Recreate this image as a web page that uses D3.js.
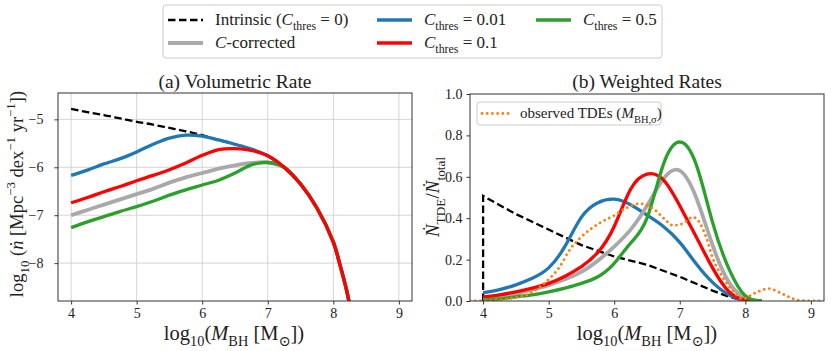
<!DOCTYPE html>
<html>
<head>
<meta charset="utf-8">
<script src="https://cdn.jsdelivr.net/npm/d3@7"></script>
<style>
  body { margin: 0; background: #fff; }
  svg, svg text, svg tspan { font-family: "Liberation Serif", "DejaVu Serif", serif !important; }
  text { fill: #222; }
</style>
</head>
<body>
<svg id="chart" width="831" height="351"></svg>
<script>
// ---- data ----
// (a) volumetric rate, log10 n-dot
var massA = [4, 4.25, 4.5, 4.75, 5, 5.25, 5.5, 5.75, 6, 6.25, 6.5, 6.75, 7, 7.25, 7.5, 7.75, 8, 8.1, 8.2, 8.25];
var intrinsicA = [-4.78, -4.85, -4.91, -4.98, -5.05, -5.11, -5.18, -5.25, -5.33, -5.43, -5.52, -5.62, -5.76, -6.0, -6.35, -6.85, -7.56, -8.03, -8.55, -8.88];
var corrA  = [-7.0, -6.89, -6.78, -6.67, -6.56, -6.45, -6.32, -6.21, -6.12, -6.03, -5.96, -5.91, -5.9, -6.0, -6.35, -6.85, -7.56, -8.03, -8.55, -8.88];
var c001A  = [-6.17, -6.06, -5.93, -5.82, -5.68, -5.52, -5.39, -5.33, -5.35, -5.43, -5.52, -5.62, -5.76, -6.0, -6.35, -6.85, -7.56, -8.03, -8.55, -8.88];
var c01A   = [-6.74, -6.63, -6.51, -6.4, -6.28, -6.17, -6.05, -5.91, -5.75, -5.63, -5.61, -5.65, -5.76, -6.0, -6.35, -6.85, -7.56, -8.03, -8.55, -8.88];
var c05A   = [-7.26, -7.14, -7.03, -6.92, -6.82, -6.71, -6.58, -6.47, -6.37, -6.27, -6.12, -5.95, -5.9, -6.0, -6.35, -6.85, -7.56, -8.03, -8.55, -8.88];

// (b) weighted rates
var massB = [4, 4.25, 4.5, 4.75, 5, 5.25, 5.5, 5.75, 6, 6.25, 6.5, 6.75, 7, 7.25, 7.5, 7.75, 8, 8.25];
var corrB = [0.012, 0.02, 0.035, 0.055, 0.077, 0.105, 0.141, 0.195, 0.263, 0.345, 0.46, 0.59, 0.63, 0.5, 0.27, 0.09, 0.015, 0];
var c001B = [0.04, 0.055, 0.078, 0.11, 0.16, 0.265, 0.405, 0.475, 0.492, 0.465, 0.415, 0.36, 0.283, 0.18, 0.09, 0.03, 0.003, 0];
var c01B  = [0.02, 0.03, 0.044, 0.062, 0.085, 0.12, 0.166, 0.235, 0.36, 0.54, 0.613, 0.585, 0.46, 0.31, 0.16, 0.045, 0.005, 0];
var c05B  = [0.003, 0.01, 0.02, 0.03, 0.044, 0.062, 0.085, 0.117, 0.182, 0.28, 0.4, 0.66, 0.768, 0.66, 0.38, 0.155, 0.025, 0];
var intrMassB = [4, 4, 4.5, 5, 5.5, 6, 6.5, 7, 7.5, 7.75, 8];
var intrB     = [0, 0.507, 0.42, 0.345, 0.27, 0.215, 0.175, 0.117, 0.05, 0.02, 0];
var obsMass = [3.8, 4, 4.1, 4.41, 4.71, 4.96, 5.17, 5.32, 5.48, 5.63, 5.78, 5.98, 6.19, 6.39, 6.62, 6.77, 6.9, 7.05, 7.2, 7.3, 7.4, 7.5, 7.65, 7.8, 7.96, 8.13, 8.36, 8.51, 8.66, 8.82, 9.0, 9.2];
var obsB    = [0, 0.001, 0.003, 0.012, 0.036, 0.093, 0.166, 0.247, 0.304, 0.345, 0.377, 0.41, 0.45, 0.47, 0.44, 0.395, 0.365, 0.375, 0.405, 0.38, 0.31, 0.21, 0.117, 0.052, 0.01, 0.036, 0.06, 0.043, 0.02, 0.003, 0, 0];

var ticksX = [4, 5, 6, 7, 8, 9];
var ticksYA = [-5, -6, -7, -8];
var ticksYB = [0, 0.2, 0.4, 0.6, 0.8, 1.0];

var colBlue = "#1f77b4", colRed = "#ff0000", colGreen = "#2ca02c", colGray = "#a9a9a9", colOrange = "#ff7f0e";
var serif = "Liberation Serif, DejaVu Serif, serif";

var svg = d3.select("#chart").attr("font-family", serif);
svg.append("rect").attr("width", 831).attr("height", 351).attr("fill", "#fff");

// rich text: parts = [{t, i, s}] ; s = "sub" | "sup"
function rich(sel, parts, size) {
    var cur = 0;
    sel.attr("font-family", serif);
    parts.forEach(function(p) {
        var target = p.s == "sub" ? size * 0.3 : (p.s == "sup" ? -size * 0.42 : 0);
        var ts = sel.append("tspan")
            .attr("dy", target - cur)
            .attr("font-size", p.s ? size * 0.7 : size)
            .text(p.t);
        if (p.i) ts.attr("font-style", "italic");
        cur = target;
    });
    return sel;
}

var xLabelParts = [{t: "log"}, {t: "10", s: "sub"}, {t: "("}, {t: "M", i: 1}, {t: "BH", s: "sub"},
                   {t: " [M"}, {t: "\u2299", s: "sub"}, {t: "])"}];

var smooth = d3.curveCatmullRom.alpha(0.5);

//---------- panel (a) ----------
var xA = d3.scaleLinear().domain([3.8, 9.2]).range([58, 412]);
var yA = d3.scaleLinear().domain([-8.79, -4.45]).range([301, 93]);

var gA = svg.append("g");
gA.append("clipPath").attr("id", "clipA").append("rect")
    .attr("x", 58).attr("y", 93).attr("width", 354).attr("height", 208);

// grid
gA.selectAll(".gx").data(ticksX).enter().append("line")
    .attr("x1", function(d){ return xA(d); }).attr("x2", function(d){ return xA(d); })
    .attr("y1", 93).attr("y2", 301).attr("stroke", "#d0d0d0").attr("stroke-width", 0.9);
gA.selectAll(".gy").data(ticksYA).enter().append("line")
    .attr("y1", function(d){ return yA(d); }).attr("y2", function(d){ return yA(d); })
    .attr("x1", 58).attr("x2", 412).attr("stroke", "#d0d0d0").attr("stroke-width", 0.9);

var lineA = function(ys, xs) {
    return d3.line().curve(smooth)
        .x(function(d, i){ return xA(xs[i]); })
        .y(function(d){ return yA(d); })(ys);
};
var curvesA = [
    {v: intrinsicA, c: "#000", w: 2.3, dash: "7.5,3.5"},
    {v: corrA, c: colGray, w: 3.8},
    {v: c001A, c: colBlue, w: 3.3},
    {v: c05A, c: colGreen, w: 3.3},
    {v: c01A, c: colRed, w: 3.3}
];
var plotA = gA.append("g").attr("clip-path", "url(#clipA)");
curvesA.forEach(function(cv) {
    plotA.append("path").attr("d", lineA(cv.v, massA))
        .attr("fill", "none").attr("stroke", cv.c).attr("stroke-width", cv.w)
        .attr("stroke-dasharray", cv.dash || null);
});

gA.append("rect").attr("x", 58).attr("y", 93).attr("width", 354).attr("height", 208)
    .attr("fill", "none").attr("stroke", "#333").attr("stroke-width", 1);

var axA = gA.append("g").attr("transform", "translate(0,301)")
    .call(d3.axisBottom(xA).tickValues(ticksX).tickSize(3.5).tickPadding(4).tickFormat(d3.format("d")));
var ayA = gA.append("g").attr("transform", "translate(58,0)")
    .call(d3.axisLeft(yA).tickValues(ticksYA).tickSize(3.5).tickPadding(11)
        .tickFormat(function(d){ return "\u2212" + Math.abs(d); }));
[axA, ayA].forEach(function(a) {
    a.attr("font-family", serif);
    a.select(".domain").remove();
    a.selectAll("line").attr("stroke", "#333");
    a.selectAll("text").attr("font-size", 14).attr("fill", "#222");
});

gA.append("text").attr("x", 235).attr("y", 88).attr("text-anchor", "middle")
    .attr("font-family", serif).attr("font-size", 19.5).text("(a) Volumetric Rate");
rich(gA.append("text").attr("x", 234).attr("y", 340).attr("text-anchor", "middle"), xLabelParts, 20.5);
rich(gA.append("text").attr("transform", "translate(23,194) rotate(-90)").attr("text-anchor", "middle"),
    [{t: "log"}, {t: "10", s: "sub"}, {t: " ("}, {t: "\u1E45", i: 1}, {t: " [Mpc"}, {t: "\u22123", s: "sup"},
     {t: " dex"}, {t: "\u22121", s: "sup"}, {t: " yr"}, {t: "\u22121", s: "sup"}, {t: "])"}], 18.5);

//---------- panel (b) ----------
var xB = d3.scaleLinear().domain([3.8, 9.2]).range([470, 824]);
var yB = d3.scaleLinear().domain([0, 1]).range([301, 94]);

var gB = svg.append("g");
gB.append("clipPath").attr("id", "clipB").append("rect")
    .attr("x", 470).attr("y", 94).attr("width", 354).attr("height", 207);
var plotB = gB.append("g").attr("clip-path", "url(#clipB)");

var curvesB = [
    {xs: intrMassB, v: intrB, c: "#000", w: 2.3, dash: "7.5,3.5", curve: d3.curveLinear},
    {xs: massB, v: c001B, c: colBlue, w: 3.3},
    {xs: massB, v: corrB, c: colGray, w: 3.8},
    {xs: massB, v: c01B, c: colRed, w: 3.3},
    {xs: massB, v: c05B, c: colGreen, w: 3.3},
    {xs: obsMass, v: obsB, c: colOrange, w: 2.8, dash: "0.01,5.2", cap: "round", curve: d3.curveMonotoneX}
];
curvesB.forEach(function(cv) {
    var ln = d3.line().curve(cv.curve || d3.curveNatural)
        .x(function(d, i){ return xB(cv.xs[i]); })
        .y(function(d){ return yB(d); });
    plotB.append("path").attr("d", ln(cv.v))
        .attr("fill", "none").attr("stroke", cv.c).attr("stroke-width", cv.w)
        .attr("stroke-dasharray", cv.dash || null)
        .attr("stroke-linecap", cv.cap || "butt");
});

gB.append("rect").attr("x", 470).attr("y", 94).attr("width", 354).attr("height", 207)
    .attr("fill", "none").attr("stroke", "#333").attr("stroke-width", 1);

var axB = gB.append("g").attr("transform", "translate(0,301)")
    .call(d3.axisBottom(xB).tickValues(ticksX).tickSize(3.5).tickPadding(4).tickFormat(d3.format("d")));
var ayB = gB.append("g").attr("transform", "translate(470,0)")
    .call(d3.axisLeft(yB).tickValues(ticksYB).tickSize(3.5).tickPadding(4).tickFormat(d3.format(".1f")));
[axB, ayB].forEach(function(a) {
    a.attr("font-family", serif);
    a.select(".domain").remove();
    a.selectAll("line").attr("stroke", "#333");
    a.selectAll("text").attr("font-size", 14).attr("fill", "#222");
});

gB.append("text").attr("x", 647).attr("y", 88).attr("text-anchor", "middle")
    .attr("font-family", serif).attr("font-size", 19.5).text("(b) Weighted Rates");
rich(gB.append("text").attr("x", 647).attr("y", 340).attr("text-anchor", "middle"), xLabelParts, 20.5);
rich(gB.append("text").attr("transform", "translate(439,197) rotate(-90)").attr("text-anchor", "middle"),
    [{t: "\u1E44", i: 1}, {t: "TDE", s: "sub"}, {t: "/"}, {t: "\u1E44", i: 1}, {t: "total", s: "sub"}], 19);

// inner legend of panel (b)
gB.append("rect").attr("x", 477).attr("y", 102).attr("width", 184).attr("height", 23)
    .attr("rx", 3).attr("fill", "#fff").attr("fill-opacity", 0.8).attr("stroke", "#ccc");
gB.append("line").attr("x1", 482).attr("x2", 510).attr("y1", 113.5).attr("y2", 113.5)
    .attr("stroke", colOrange).attr("stroke-width", 2.8).attr("stroke-dasharray", "0.01,5.2")
    .attr("stroke-linecap", "round");
rich(gB.append("text").attr("x", 520).attr("y", 118),
    [{t: "observed TDEs ("}, {t: "M", i: 1}, {t: "BH,\u03C3", s: "sub"}, {t: ")"}], 15);

//---------- top legend ----------
var C = {t: "C", i: 1}, thr = {t: "thres", s: "sub"};
var legendItems = [
    {x: 168, y: 20, c: "#000", w: 2.3, dash: "7.5,3.5", parts: [{t: "Intrinsic ("}, C, thr, {t: " = 0)"}]},
    {x: 168, y: 43, c: colGray, w: 3.8, parts: [C, {t: "-corrected"}]},
    {x: 377, y: 20, c: colBlue, w: 3.3, parts: [C, thr, {t: " = 0.01"}]},
    {x: 377, y: 43, c: colRed, w: 3.3, parts: [C, thr, {t: " = 0.1"}]},
    {x: 536, y: 20, c: colGreen, w: 3.3, parts: [C, thr, {t: " = 0.5"}]}
];
var leg = svg.append("g");
leg.append("rect").attr("x", 163).attr("y", 5).attr("width", 499).attr("height", 53)
    .attr("rx", 3).attr("fill", "#fff").attr("stroke", "#ccc");
legendItems.forEach(function(it) {
    leg.append("line").attr("x1", it.x).attr("x2", it.x + 35).attr("y1", it.y).attr("y2", it.y)
        .attr("stroke", it.c).attr("stroke-width", it.w).attr("stroke-dasharray", it.dash || null);
    rich(leg.append("text").attr("x", it.x + 47).attr("y", it.y + 5), it.parts, 17);
});
</script>
</body>
</html>
